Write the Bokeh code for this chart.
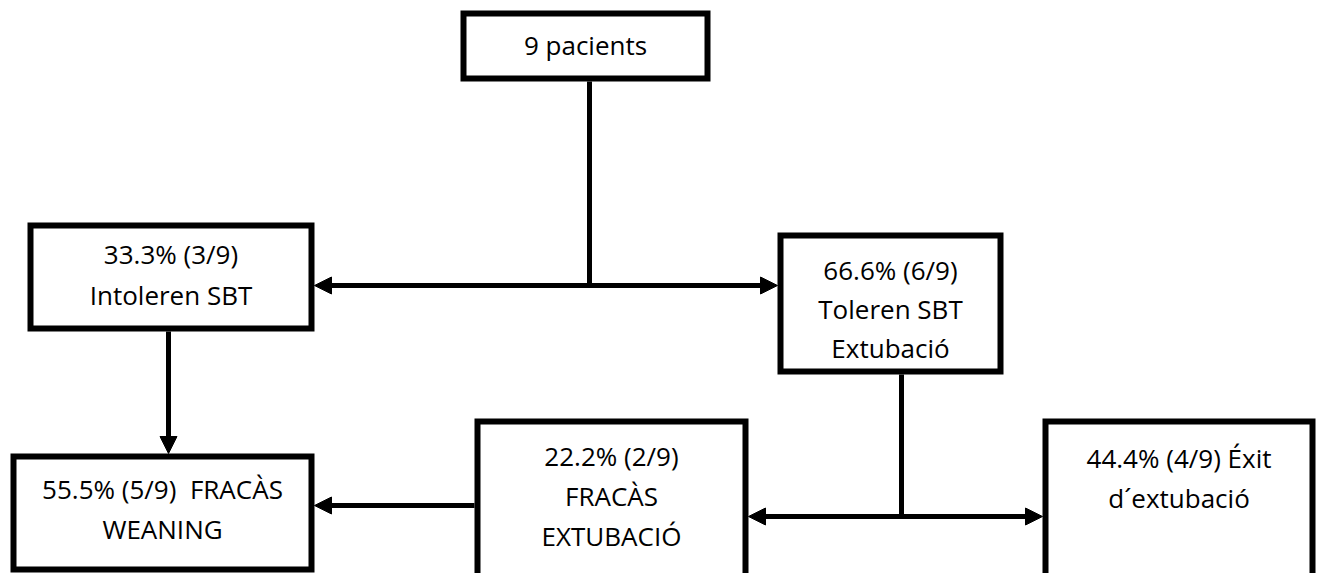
from bokeh.plotting import figure
from bokeh.models import Range1d, Arrow, NormalHead, ColumnDataSource
from bokeh.core.properties import value
from bokeh.embed import file_html
from bokeh.resources import INLINE

# ---- data (flowchart content) ----
total_patients = 9
node_ids = ["total", "intol", "tol", "fail_wean", "fail_ext", "success"]
node_lines = [
    ["9 pacients"],
    ["33.3% (3/9)", "Intoleren SBT"],
    ["66.6% (6/9)", "Toleren SBT", "Extubació"],
    ["55.5% (5/9)\u00a0 FRACÀS", "WEANING"],
    ["22.2% (2/9)", "FRACÀS", "EXTUBACIÓ"],
    ["44.4% (4/9) Éxit", "d´extubació"],
]

# ---- layout (pixel coordinates, outer edges of boxes) ----
box_left   = [460, 27, 777, 10, 474, 1042]
box_right  = [710, 314, 1003, 314, 748, 1315]
box_top    = [10, 222, 232, 453, 418, 418]
box_bottom = [81, 331, 374, 572, 640, 640]
line_baselines = [
    [44],
    [253, 294],
    [269, 308, 347],
    [488, 528],
    [455, 495, 535],
    [457, 497],
]

BW = 6   # box border width
LW = 5   # connector width

p = figure(width=1320, height=573, x_range=Range1d(0, 1320), y_range=Range1d(573, 0),
           output_backend="svg", toolbar_location=None, min_border=0,
           x_axis_location=None, y_axis_location=None)
p.title.visible = False
p.xgrid.visible = False
p.ygrid.visible = False
p.outline_line_color = None
p.background_fill_color = "white"
p.border_fill_color = "white"

h = BW / 2
box_src = ColumnDataSource(dict(
    left=[v + h for v in box_left], right=[v - h for v in box_right],
    top=[v + h for v in box_top], bottom=[v - h for v in box_bottom]))
p.quad(left="left", right="right", top="top", bottom="bottom", source=box_src,
       fill_color="white", line_color="black", line_width=BW, line_join="miter")

# text
tx, ty, tt = [], [], []
for i, lines in enumerate(node_lines):
    cx = (box_left[i] + box_right[i]) / 2
    for s, b in zip(lines, line_baselines[i]):
        tx.append(cx); ty.append(b); tt.append(s)
p.text(x=tx, y=ty, text=tt, text_font=value("Open Sans"), text_font_size="26px",
       text_align="center", text_baseline="alphabetic", text_color="black")

# connectors
x_trunk = 589
y_split1 = 285
x_tol = 901
y_split2 = 516
y_fail = 505
x_intol = 168

p.segment(x0=[x_trunk, x_tol], y0=[box_bottom[0], box_bottom[2]],
          x1=[x_trunk, x_tol], y1=[y_split1, y_split2],
          line_width=LW, line_color="black")

def head():
    return NormalHead(size=17, fill_color="black", line_color="black", line_width=1)

p.add_layout(Arrow(start=head(), end=head(), x_start=box_right[1], y_start=y_split1,
                   x_end=box_left[2], y_end=y_split1, line_width=LW, line_color="black"))
p.add_layout(Arrow(end=head(), x_start=x_intol, y_start=box_bottom[1],
                   x_end=x_intol, y_end=box_top[3], line_width=LW, line_color="black"))
p.add_layout(Arrow(end=head(), x_start=box_left[4], y_start=y_fail,
                   x_end=box_right[3], y_end=y_fail, line_width=LW, line_color="black"))
p.add_layout(Arrow(start=head(), end=head(), x_start=box_right[4], y_start=y_split2,
                   x_end=box_left[5], y_end=y_split2, line_width=LW, line_color="black"))

open("out.html", "w").write(file_html(p, INLINE))
